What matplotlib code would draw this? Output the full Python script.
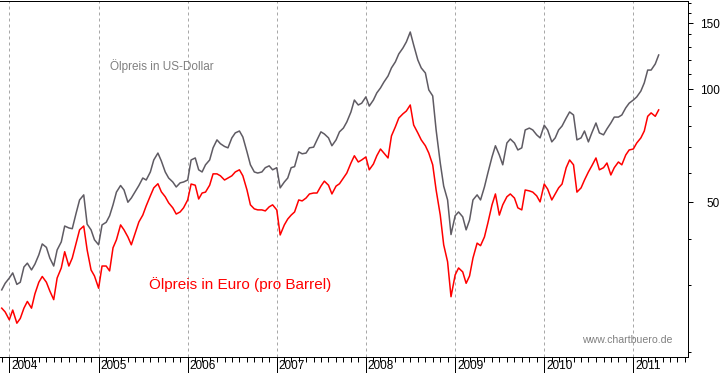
import pandas as pd
import matplotlib
matplotlib.use('Agg')
import matplotlib.pyplot as plt
import matplotlib.dates as mdates
import matplotlib.ticker as mticker
from matplotlib.transforms import ScaledTranslation

plt.rcParams['font.family'] = ['Liberation Sans', 'DejaVu Sans']

# Stichtage: jeweils 1. und 15. des Monats
dates = pd.date_range('2003-12-01', '2011-04-15', freq='SMS')

# Ölpreis in US-Dollar (grau)
usd = [29.2, 30.4,
       31.4, 32.4, 30.2, 30.6, 33.6, 34.4, 33.0, 34.2, 36.2, 38.7, 37.9, 35.5,
       33.8, 37.3, 39.2, 43.2, 42.7, 42.5, 46.8, 50.7, 52.3, 43.7, 42.2, 39.7,
       38.5, 43.5, 44.2, 46.0, 49.2, 53.2, 55.4, 53.9, 50.0, 51.3, 53.5, 55.4,
       58.0, 57.3, 60.2, 64.8, 67.6, 64.4, 60.2, 58.0, 56.6, 54.9, 56.3, 56.6,
       57.3, 64.8, 65.6, 61.0, 60.2, 62.9, 64.8, 69.8, 73.3, 71.6, 70.4, 69.8,
       74.2, 76.5, 77.4, 74.6, 68.1, 62.9, 60.2, 59.8, 60.2, 61.8, 62.5, 61.0,
       61.8, 54.6, 56.6, 58.0, 61.8, 62.2, 68.1, 67.3, 67.6, 69.8, 70.1, 73.3,
       77.0, 76.0, 74.2, 70.7, 73.3, 77.0, 78.8, 81.8, 87.0, 93.6, 90.8, 91.8,
       95.4, 90.2, 93.6, 97.8, 100.8, 104.5, 108.5, 114.0, 118.3, 124.2, 128.8, 133.7,
       142.1, 131.2, 119.7, 114.0, 110.5, 99.6, 96.0, 77.9, 63.6, 55.2, 50.7, 41.0,
       46.0, 47.1, 45.7, 42.2, 44.8, 50.7, 52.3, 50.7, 54.9, 59.8, 66.0, 70.7,
       66.8, 62.9, 71.9, 73.7, 71.9, 68.9, 69.8, 77.9, 78.8, 77.9, 75.6, 74.2,
       80.2, 77.9, 72.4, 74.2, 77.9, 79.8, 83.8, 87.0, 85.4, 73.3, 74.2, 77.4,
       72.4, 76.5, 81.3, 76.5, 75.6, 78.4, 81.3, 84.3, 84.3, 85.4, 89.2, 91.8,
       93.6, 95.4, 98.9, 104.0, 112.5, 112.5, 116.8, 123.4]

# Ölpreis in Euro (rot)
eur = [26.1, 25.5,
       24.3, 25.8, 23.8, 24.5, 26.1, 27.2, 26.1, 28.5, 30.6, 31.7, 30.6, 29.0,
       27.5, 31.4, 33.4, 36.9, 33.8, 35.5, 38.9, 42.2, 43.2, 37.3, 33.0, 31.8,
       29.5, 33.8, 33.8, 32.8, 37.8, 39.7, 43.5, 42.2, 40.4, 38.5, 41.6, 44.3,
       46.2, 48.9, 52.0, 54.6, 56.0, 53.3, 51.7, 49.8, 48.3, 46.5, 47.1, 48.3,
       50.7, 55.9, 55.5, 51.0, 52.9, 53.2, 55.5, 59.5, 59.5, 58.8, 57.3, 58.0,
       58.8, 60.2, 61.0, 58.8, 53.9, 49.2, 48.0, 47.7, 47.7, 47.4, 48.6, 49.2,
       47.7, 40.9, 43.5, 45.1, 46.2, 47.1, 50.7, 50.4, 51.3, 52.6, 52.9, 52.9,
       55.2, 56.9, 55.5, 52.6, 55.2, 56.0, 58.0, 59.8, 63.6, 66.5, 64.0, 64.8,
       66.0, 61.0, 63.2, 66.5, 69.3, 67.6, 65.6, 75.1, 79.4, 83.8, 86.0, 87.5,
       90.8, 80.3, 76.5, 73.3, 70.7, 67.6, 62.9, 53.9, 46.2, 38.5, 34.7, 28.0,
       32.0, 33.4, 32.6, 30.4, 31.8, 35.5, 38.9, 38.3, 40.4, 44.0, 49.2, 52.6,
       46.2, 49.2, 51.7, 52.6, 51.3, 48.3, 47.7, 53.9, 53.6, 53.2, 52.0, 50.1,
       55.9, 54.2, 50.7, 52.6, 54.6, 55.9, 61.8, 64.8, 62.9, 53.2, 54.6, 57.3,
       60.2, 62.5, 65.6, 61.0, 61.8, 63.6, 59.1, 61.8, 64.0, 62.9, 66.8, 68.9,
       69.3, 71.9, 74.2, 77.4, 84.7, 86.5, 84.7, 88.1]

y_major = [50, 100, 150]
y_minor = [20, 30, 40, 60, 70, 80, 90, 110, 120, 130, 140, 160, 170]

W, H = 723, 373
fig = plt.figure(figsize=(W / 100, H / 100), dpi=100)
ax = fig.add_axes([0.0, 16.5 / H, 687.5 / W, 356 / H])

ax.plot(dates, usd, color='#5f5b63', lw=1.1)
ax.plot(dates, eur, color='#ff0000', lw=1.1)

# logarithmische Skala rechts
ax.set_yscale('log')
ax.set_ylim(19.4, 172.4)
ax.yaxis.tick_right()
ax.yaxis.set_major_locator(mticker.FixedLocator(y_major))
ax.yaxis.set_major_formatter(mticker.FixedFormatter([str(v) for v in y_major]))
ax.yaxis.set_minor_locator(mticker.FixedLocator(y_minor))
ax.yaxis.set_minor_formatter(mticker.NullFormatter())
ax.tick_params(axis='y', which='major', length=3.6, width=0.72, pad=19.8,
               labelsize=8.5, colors='black')
ax.tick_params(axis='y', which='minor', length=2.2, width=0.72)
plt.setp(ax.get_yticklabels(), ha='right')

# Zeitachse
x0 = mdates.date2num(pd.Timestamp('2004-01-01'))
x1 = mdates.date2num(pd.Timestamp('2011-01-01'))
ppd = (633.3 - 9.3) / (x1 - x0)  # Pixel pro Tag
ax.set_xlim(x0 - 9.3 / ppd, x0 + (687.5 - 9.3) / ppd)
ax.xaxis.set_major_locator(mdates.YearLocator())
ax.xaxis.set_major_formatter(mdates.DateFormatter('%Y'))
ax.xaxis.set_minor_locator(mdates.MonthLocator())
ax.tick_params(axis='x', which='major', length=11.5, width=0.72, pad=-9,
               labelsize=8.5)
ax.tick_params(axis='x', which='minor', length=3.6, width=0.72)
shift = ScaledTranslation(2 / 100, 0, fig.dpi_scale_trans)
for lbl in ax.get_xticklabels():
    lbl.set_ha('left')
    lbl.set_transform(lbl.get_transform() + shift)

ax.grid(True, axis='x', which='major', color='#a8a8a8',
        linestyle=(0, (3, 3)), linewidth=0.72)
ax.spines['left'].set_visible(False)
for s in ('top', 'right', 'bottom'):
    ax.spines[s].set_linewidth(0.72)

fig.text(110 / W, 1 - 70 / H, 'Ölpreis in US-Dollar', color='#808080',
         fontsize=8.5, va='baseline')
fig.text(149 / W, 1 - 289 / H, 'Ölpreis in Euro (pro Barrel)', color='#ff0000',
         fontsize=11, va='baseline')
fig.text(582 / W, 1 - 343 / H, 'www.chartbuero.de', color='#808080',
         fontsize=7.6, va='baseline')

fig.savefig('out.png', dpi=100)
